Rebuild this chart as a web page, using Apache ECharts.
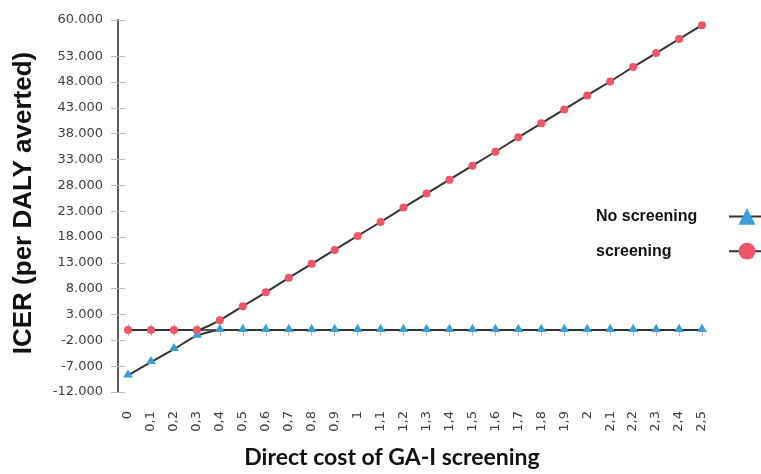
<!DOCTYPE html>
<html>
<head>
<meta charset="utf-8">
<script src="https://cdn.jsdelivr.net/npm/echarts@6/dist/echarts.min.js"></script>
<style>
html,body{margin:0;padding:0;background:#fff;}
#chart{width:761px;height:474px;}
</style>
</head>
<body>
<div id="chart"></div>
<script>
const categories = ['0','0,1','0,2','0,3','0,4','0,5','0,6','0,7','0,8','0,9','1','1,1','1,2','1,3','1,4','1,5','1,6','1,7','1,8','1,9','2','2,1','2,2','2,3','2,4','2,5'];
const noScreening = [-8800,-6200,-3700,-1100,0,0,0,0,0,0,0,0,0,0,0,0,0,0,0,0,0,0,0,0,0,0];
const screening = [0,0,0,0,1900,4600,7300,10100,12800,15500,18200,20900,23700,26400,29100,31800,34500,37300,40000,42700,45400,48100,50900,53600,56300,59000];
const yTicks = [-12000,-7000,-2000,3000,8000,13000,18000,23000,28000,33000,38000,43000,48000,53000,60000];

const chart = echarts.init(document.getElementById('chart'));
const axisColor = '#595959';
const tickColor = '#b8b8b8';
const labelFont = {fontFamily:'DejaVu Sans', fontSize:13, color:'#404040'};
const fmt = v => (v/1000) + '.000';

chart.setOption({
  animation:false,
  grid:{left:128,right:59,top:20,bottom:80,containLabel:false},
  legend:{
    data:['No screening','screening'],
    orient:'vertical', align:'right',
    right:-5, top:208, padding:0,
    itemWidth:36, itemHeight:21, itemGap:18,
    formatter:'{t|{name}}',
    textStyle:{color:'#111', rich:{t:{fontFamily:'Liberation Sans', fontWeight:'bold', fontSize:16, color:'#111', width:128, align:'left'}}}
  },
  xAxis:[{
    type:'category', data:categories, boundaryGap:false, offset:9,
    axisLine:{lineStyle:{color:axisColor,width:2}},
    axisTick:{show:true, length:6, lineStyle:{color:tickColor,width:1}},
    axisLabel:Object.assign({rotate:90, margin:10, interval:0}, labelFont),
    splitLine:{show:false},
    name:'Direct cost of GA-I screening', nameLocation:'middle', nameGap:45,
    nameTextStyle:{fontFamily:'Lato', fontWeight:'bold', fontSize:23, color:'#111', padding:[0,46,0,0]}
  },{
    type:'category', data:categories, boundaryGap:false, offset:9, position:'bottom',
    axisLine:{show:false},
    axisTick:{show:true, inside:true, length:6, lineStyle:{color:tickColor,width:1}},
    axisLabel:{show:false}, splitLine:{show:false}
  }],
  yAxis:[{
    type:'value', min:-12000, max:60000, offset:10,
    axisLine:{show:true, lineStyle:{color:axisColor,width:2}},
    axisTick:{show:true, length:7, customValues:yTicks, lineStyle:{color:tickColor,width:1}},
    axisLabel:Object.assign({customValues:yTicks, margin:15, formatter:fmt}, labelFont),
    splitLine:{show:false},
    name:'ICER (per DALY averted)', nameLocation:'middle', nameRotate:90, nameGap:81,
    nameTextStyle:{fontFamily:'Liberation Sans', fontWeight:'bold', fontSize:26, color:'#111', padding:[0,0,0,6]}
  },{
    type:'value', min:-12000, max:60000, offset:10, position:'left',
    axisLine:{show:false},
    axisTick:{show:true, inside:true, length:7, customValues:yTicks, lineStyle:{color:tickColor,width:1}},
    axisLabel:{show:false}, splitLine:{show:false}
  }],
  series:[{
    name:'No screening', type:'line', data:noScreening, smooth:0.2,
    symbol:'triangle', symbolSize:[10,8], symbolOffset:[0,-2], showAllSymbol:true,
    itemStyle:{color:'#3d9fd9'},
    lineStyle:{color:'#333', width:2}
  },{
    name:'screening', type:'line', data:screening, smooth:0.2,
    symbol:'circle', symbolSize:8, showAllSymbol:true,
    itemStyle:{color:'#ef5467'},
    lineStyle:{color:'#333', width:2}
  }]
});
</script>
</body>
</html>
